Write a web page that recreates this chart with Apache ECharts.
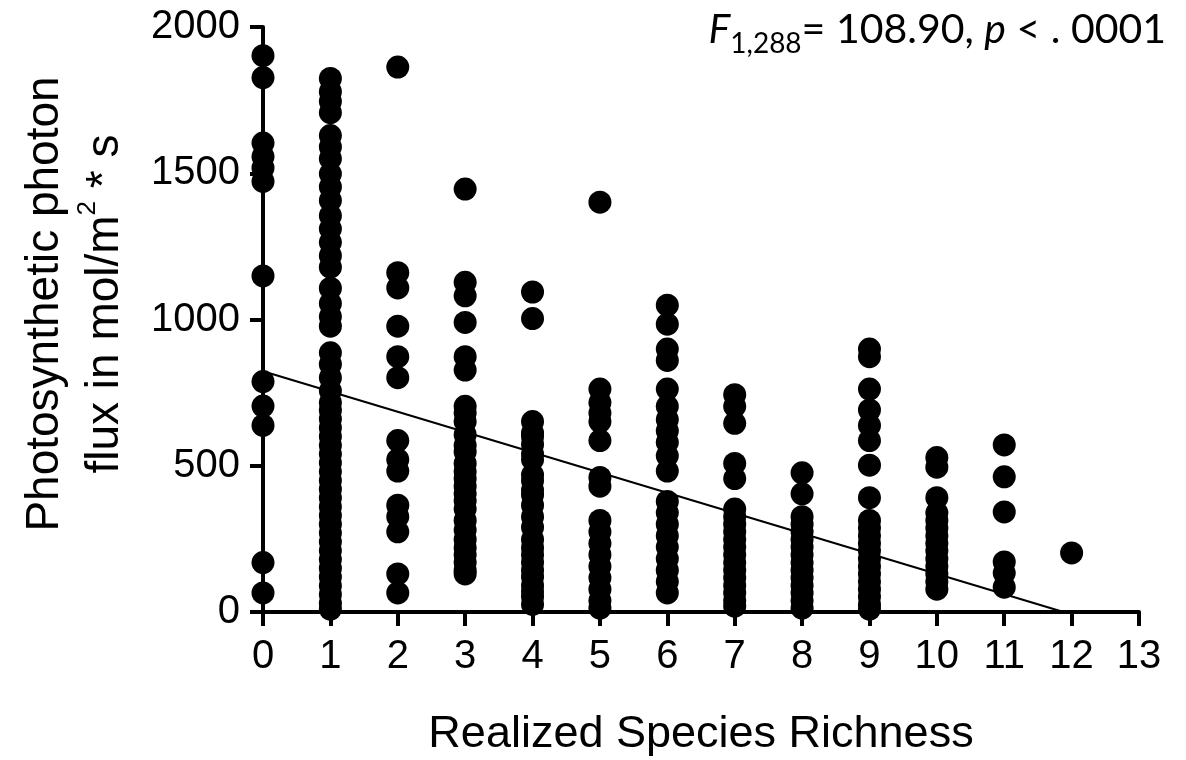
<!DOCTYPE html>
<html>
<head>
<meta charset="utf-8">
<script src="https://cdn.jsdelivr.net/npm/echarts@6/dist/echarts.min.js"></script>
<style>html,body{margin:0;padding:0;background:#fff;}#c{width:1186px;height:760px;}</style>
</head>
<body>
<div id="c"></div>
<script>
// Realized species richness (x) vs photosynthetic photon flux (y)
const richness0 = [1902, 1827, 1603, 1557, 1518, 1472, 1149, 788, 704, 638, 169, 65];
const richness1 = [1824, 1779, 1746, 1707, 1629, 1590, 1550, 1498, 1453, 1407, 1355, 1310, 1264, 1218, 1179, 1107, 1055, 1010, 977,
  886, 847, 801, 756, 716, 690, 660, 630, 600, 570, 540, 510, 480, 450, 420, 390, 360, 330, 300, 270, 240, 210, 180, 150, 120, 90, 60, 30, 10];
const richness2 = [1863, 1160, 1108, 977, 873, 801, 586, 521, 482, 365, 326, 274, 130, 65];
const richness3 = [1446, 1127, 1081, 990, 873, 827, 703, 680, 651, 606, 570, 547, 508, 480, 456, 430, 404, 380, 352, 313, 280, 248, 220, 196, 170, 143, 130];
const richness4 = [1094, 1003, 651, 612, 600, 573, 540, 521, 469, 450, 417, 400, 365, 326, 290, 248, 220, 196, 170, 143, 120, 91, 70, 52, 26];
const richness5 = [1401, 762, 716, 680, 651, 586, 460, 430, 313, 274, 235, 196, 156, 117, 78, 39, 13];
const richness6 = [1049, 984, 899, 860, 762, 703, 658, 619, 580, 534, 482, 378, 339, 300, 261, 222, 182, 143, 104, 65];
const richness7 = [743, 703, 645, 508, 456, 352, 326, 300, 274, 248, 222, 196, 169, 143, 117, 91, 65, 39, 20];
const richness8 = [476, 404, 326, 300, 274, 248, 222, 196, 169, 143, 117, 91, 65, 39, 13];
const richness9 = [899, 873, 762, 691, 638, 586, 502, 391, 313, 287, 261, 235, 209, 182, 156, 130, 104, 78, 52, 26, 10];
const richness10 = [528, 495, 391, 339, 313, 287, 261, 235, 209, 182, 156, 130, 104, 78];
const richness11 = [571, 462, 342, 171, 133, 85];
const richness12 = [202];
const columns = [richness0, richness1, richness2, richness3, richness4, richness5, richness6,
  richness7, richness8, richness9, richness10, richness11, richness12];

// Regression fit line endpoints (x, y)
const fitX = [0, 11.88];
const fitY = [823, 0];

const xTicks = [0, 13, 1];      // min, max, interval
const yTicks = [0, 2000, 500];  // min, max, interval

const xTitle = 'Realized Species Richness';
const yTitleLine1 = 'Photosynthetic photon';
const yTitleLine2a = 'flux in mol/m';
const yTitleSup = '2';
const yTitleLine2b = ' * s';
const statF = 'F';
const statSub = '1,288';
const statRest1 = '= 108.90, ';
const statP = 'p';
const statRest2 = ' < . 0001';

const points = [];
columns.forEach((vals, x) => vals.forEach(v => points.push([x, v])));
const fitData = fitX.map((x, i) => [x, fitY[i]]);

const FONT = '"Liberation Sans", Arial, sans-serif';
const chart = echarts.init(document.getElementById('c'), null, {renderer: 'canvas'});
chart.setOption({
  backgroundColor: '#fff',
  animation: false,
  grid: {left: 263, right: 47, top: 27, bottom: 148, containLabel: false, outerBoundsMode: 'none'},
  xAxis: {
    type: 'value', min: xTicks[0], max: xTicks[1], interval: xTicks[2],
    name: xTitle, nameLocation: 'middle', nameGap: 100,
    nameTextStyle: {fontFamily: FONT, fontSize: 45, color: '#000'},
    axisLine: {show: true, onZero: false, lineStyle: {color: '#000', width: 4}},
    axisTick: {show: true, length: 14, lineStyle: {color: '#000', width: 4}},
    axisLabel: {fontFamily: FONT, fontSize: 40, color: '#000', margin: 25},
    splitLine: {show: false}
  },
  yAxis: {
    type: 'value', min: yTicks[0], max: yTicks[1], interval: yTicks[2],
    axisLine: {show: true, onZero: false, lineStyle: {color: '#000', width: 4}},
    axisTick: {show: true, length: 13, lineStyle: {color: '#000', width: 4}},
    axisLabel: {fontFamily: FONT, fontSize: 40, color: '#000', margin: 23, formatter: v => String(v)},
    splitLine: {show: false}
  },
  series: [
    {
      type: 'scatter', data: points, symbol: 'circle', symbolSize: 23, clip: false,
      itemStyle: {color: '#000', opacity: 1}, z: 3
    },
    {
      type: 'line', data: fitData, symbol: 'none', clip: false,
      lineStyle: {color: '#000', width: 2}, z: 4
    }
  ],
  graphic: [
    {
      type: 'text', x: 68, y: 304, rotation: Math.PI / 2,
      style: {
        legacy: false,
        text: '{a|' + yTitleLine1 + '}\n{a|' + yTitleLine2a + '}{s|' + yTitleSup + '}{a|' + yTitleLine2b + '}',
        align: 'center', verticalAlign: 'middle',
        fill: '#000',
        rich: {
          a: {fontFamily: FONT, fontSize: 46, lineHeight: 60, fill: '#000', verticalAlign: 'bottom'},
          s: {fontFamily: FONT, fontSize: 26, lineHeight: 30, fill: '#000', verticalAlign: 'top', padding: [7, 0, 0, 0]}
        }
      }
    },
    {
      type: 'text', x: 1166, y: 9,
      style: {
        legacy: false,
        text: '{fi|' + statF + '}{sub|' + statSub + '}{n|' + statRest1 + '}{pi|' + statP + '}{n|' + statRest2 + '}',
        align: 'right', verticalAlign: 'top',
        fill: '#000',
        rich: {
          fi: {fontFamily: 'Lato', fontSize: 41, fontStyle: 'italic', lineHeight: 41, verticalAlign: 'top', fill: '#000'},
          pi: {fontFamily: 'Lato', fontSize: 41, fontStyle: 'italic', lineHeight: 41, verticalAlign: 'top', fill: '#000'},
          n: {fontFamily: 'Lato', fontSize: 41, lineHeight: 41, verticalAlign: 'top', fill: '#000'},
          sub: {fontFamily: 'Lato', fontSize: 28, lineHeight: 49, verticalAlign: 'bottom', fill: '#000'}
        }
      }
    }
  ]
});
</script>
</body>
</html>
